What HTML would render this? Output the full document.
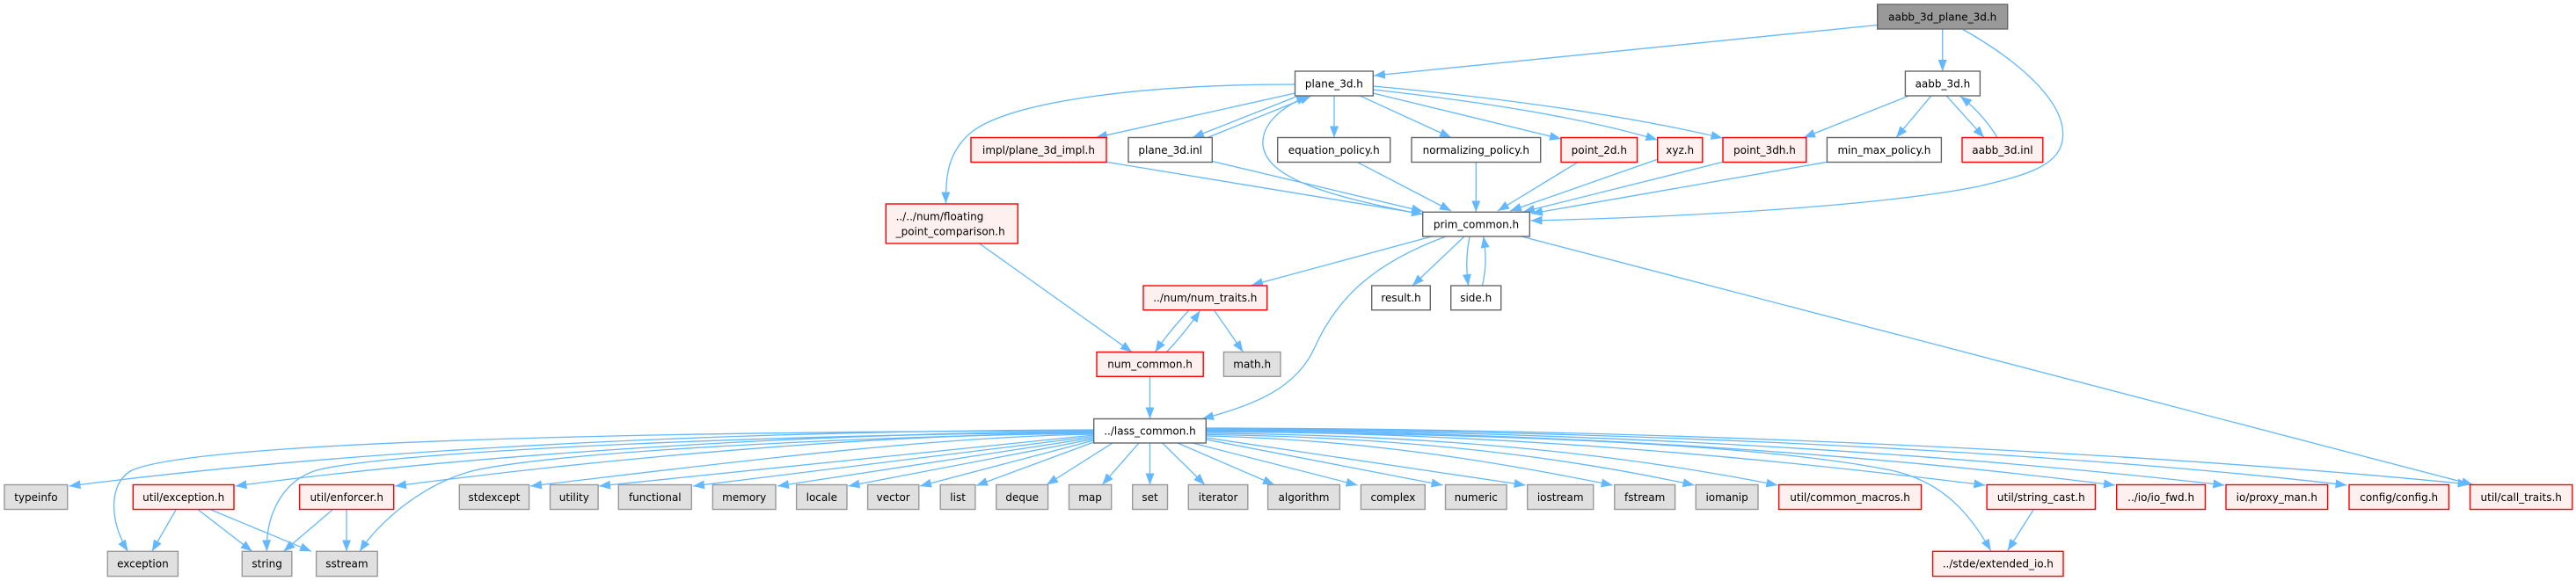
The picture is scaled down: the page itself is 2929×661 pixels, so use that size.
<!DOCTYPE html>
<html>
<head>
<meta charset="utf-8">
<style>
html,body{margin:0;padding:0;background:#fff;}
svg{display:block;}
.e{fill:none;stroke:#63b8ff;stroke-width:1.3;marker-end:url(#ah);}
.w{fill:#ffffff;stroke:#666666;stroke-width:1.4;}
.r{fill:#fff0f0;stroke:#ff0000;stroke-width:1.4;}
.g{fill:#e0e0e0;stroke:#999999;stroke-width:1.4;}
.k{fill:#999999;stroke:#666666;stroke-width:1.4;}
text{font-family:"DejaVu Sans","Liberation Sans",sans-serif;font-size:12px;fill:#000;}
</style>
</head>
<body>
<svg width="2929" height="661" viewBox="0 0 2929 661" xmlns="http://www.w3.org/2000/svg">
<defs>
<marker id="ah" viewBox="0 0 13 10" refX="13" refY="5" markerWidth="13" markerHeight="10" markerUnits="userSpaceOnUse" orient="auto">
<path d="M0,0 L13,5 L0,10 z" fill="#63b8ff"/>
</marker>
</defs>
<rect width="2929" height="661" fill="#fff"/>

<!-- edges -->
<g>
<path class="e" d="M2134.7,28.5 L1562,86"/>
<path class="e" d="M2208.7,33.3 L2208.7,81"/>
<path class="e" d="M2232,33.5 C2300,72 2352,120 2345,160 C2340,190 2300,200 2250,212 C2150,232 1950,246 1740.5,251"/>
<path class="e" d="M1472.5,96 C1300,96 1150,115 1105,150 C1078,172 1075,200 1075.5,231.5"/>
<path class="e" d="M1472.5,106 L1246,156.5"/>
<path class="e" d="M1472.5,110.5 L1356,156.5"/>
<path class="e" d="M1373,156.5 L1491,109"/>
<path class="e" d="M1517,108.8 L1517,156.5"/>
<path class="e" d="M1546,108.8 L1650,156.5"/>
<path class="e" d="M1561.3,106 L1775,158"/>
<path class="e" d="M1561.3,102 Q1770,125 1884.3,159"/>
<path class="e" d="M1561.3,98 Q1800,120 1958.5,157"/>
<path class="e" d="M1617.7,244 C1520,225 1440,205 1436,165 C1434,140 1460,120 1487,109.5"/>
<path class="e" d="M2171,108.8 L2051,156.5"/>
<path class="e" d="M2196,108.8 L2156,156.5"/>
<path class="e" d="M2213,108.8 L2256,156.5"/>
<path class="e" d="M2271,156.5 Q2255,130 2229,109.5"/>
<path class="e" d="M1258,184.3 L1618,243.5"/>
<path class="e" d="M1378.3,183.5 L1618,240.5"/>
<path class="e" d="M1543,184.3 L1650,240"/>
<path class="e" d="M1678.3,184.3 L1678.3,241.3"/>
<path class="e" d="M1794.4,184.3 L1703,240"/>
<path class="e" d="M1884.7,181.3 L1717,240"/>
<path class="e" d="M1959,184.3 L1732,241"/>
<path class="e" d="M2077.4,184.3 L1741,243"/>
<path class="e" d="M1628,269 L1423,324.5"/>
<path class="e" d="M1644,269 C1560,300 1520,340 1495,395 C1475,440 1430,460 1367,476.5"/>
<path class="e" d="M1665,269 L1606,325"/>
<path class="e" d="M1671,269 C1667,290 1667,305 1669.5,325"/>
<path class="e" d="M1685.5,325 C1690,305 1690,290 1686.7,269"/>
<path class="e" d="M1730,269 L2812,551.5"/>
<path class="e" d="M1351.8,353 C1338,368 1325,383 1313.5,400.5"/>
<path class="e" d="M1326.5,400.5 C1340,386 1352,372 1364.5,353.5"/>
<path class="e" d="M1380.4,352.7 L1413.5,400.5"/>
<path class="e" d="M1113.5,277 L1287,400.5"/>
<path class="e" d="M1307.5,428.3 L1307.5,476.5"/>

<!-- lass_common fan-out -->
<path class="e" d="M1243.7,489 C900,490 450,505 78.5,553"/>
<path class="e" d="M1243.7,490 C800,491 230,500 150,535 C122,550 125,595 145.5,627.3"/>
<path class="e" d="M1243.7,491 C950,492 550,515 267.5,553"/>
<path class="e" d="M1243.7,492 C900,494 450,512 360,535 C318,548 302,590 303.5,627.3"/>
<path class="e" d="M1243.7,492.5 C1000,494 700,520 449,553"/>
<path class="e" d="M1243.7,493 C1000,496 650,512 540,535 C480,550 430,595 409,627.3"/>
<path class="e" d="M1243.7,494 C1050,497 800,530 603,553"/>
<path class="e" d="M1243.7,495 L681,553"/>
<path class="e" d="M1243.7,496.5 L788,553"/>
<path class="e" d="M1243.7,498 L884,553"/>
<path class="e" d="M1243.7,499.5 L964.5,553"/>
<path class="e" d="M1243.7,501 L1046,553"/>
<path class="e" d="M1243.7,503 L1110,552.5"/>
<path class="e" d="M1265,504 L1190,551.5"/>
<path class="e" d="M1295,504 L1253.3,551.5"/>
<path class="e" d="M1307.5,504 L1307.5,551.5"/>
<path class="e" d="M1321.7,504 L1370,551.5"/>
<path class="e" d="M1339,504 L1449,551.5"/>
<path class="e" d="M1356,504 L1543.6,552"/>
<path class="e" d="M1371.3,500 L1640.6,552"/>
<path class="e" d="M1371.3,498 L1734.6,552"/>
<path class="e" d="M1371.3,496 C1550,500 1700,525 1833.7,552"/>
<path class="e" d="M1371.3,494.5 C1600,497 1780,520 1926.5,552"/>
<path class="e" d="M1371.3,493 C1650,495 1850,518 2021.3,552"/>
<path class="e" d="M1371.3,491.5 C1700,493 2000,505 2150,535 C2210,548 2240,585 2263.7,626.5"/>
<path class="e" d="M1371.3,491 C1700,492 2000,520 2257.4,552"/>
<path class="e" d="M1371.3,490 C1800,491 2150,520 2405,552"/>
<path class="e" d="M1371.3,489 C1850,490 2250,520 2529.4,552"/>
<path class="e" d="M1371.3,488 C1900,489 2400,520 2668.5,552"/>
<path class="e" d="M1371.3,487 C1950,488 2500,520 2807.6,551"/>

<!-- lower edges -->
<path class="e" d="M200,580 L172.8,627.3"/>
<path class="e" d="M225.5,580 L286.7,627.3"/>
<path class="e" d="M240,580 L354,627.3"/>
<path class="e" d="M378,580 L322.5,627.3"/>
<path class="e" d="M394,580 L394,627.3"/>
<path class="e" d="M2312,580 L2282.7,626.5"/>
</g>

<!-- nodes -->
<g text-anchor="middle">
<rect class="k" x="2134.7" y="5" width="148" height="28"/><text x="2208.7" y="23.3">aabb_3d_plane_3d.h</text>

<rect class="w" x="1472.5" y="81" width="88.8" height="28"/><text x="1516.9" y="99.3">plane_3d.h</text>
<rect class="w" x="2166.4" y="81" width="85" height="28"/><text x="2208.9" y="99.3">aabb_3d.h</text>

<rect class="r" x="1104" y="156.5" width="154" height="28"/><text x="1181" y="174.8">impl/plane_3d_impl.h</text>
<rect class="w" x="1283" y="156.5" width="95.3" height="28"/><text x="1330.7" y="174.8">plane_3d.inl</text>
<rect class="w" x="1452.7" y="156.5" width="128" height="28"/><text x="1516.7" y="174.8">equation_policy.h</text>
<rect class="w" x="1605" y="156.5" width="146.7" height="28"/><text x="1678.3" y="174.8">normalizing_policy.h</text>
<rect class="r" x="1775" y="156.5" width="86.6" height="28"/><text x="1818.3" y="174.8">point_2d.h</text>
<rect class="r" x="1884.7" y="156.5" width="51.1" height="28"/><text x="1910.2" y="174.8">xyz.h</text>
<rect class="r" x="1959" y="156.5" width="94.8" height="28"/><text x="2006.4" y="174.8">point_3dh.h</text>
<rect class="w" x="2077.4" y="156.5" width="130" height="28"/><text x="2142.4" y="174.8">min_max_policy.h</text>
<rect class="r" x="2231" y="156.5" width="91.8" height="28"/><text x="2276.9" y="174.8">aabb_3d.inl</text>

<rect class="r" x="1007.3" y="232" width="150" height="45"/>
<text x="1018.6" y="250.3" text-anchor="start">../../num/floating</text>
<text x="1018.6" y="267.3" text-anchor="start">_point_comparison.h</text>

<rect class="w" x="1617.7" y="241.3" width="121.6" height="27.7"/><text x="1678.5" y="259.5">prim_common.h</text>

<rect class="r" x="1300" y="325" width="140.7" height="27.7"/><text x="1370.3" y="343.2">../num/num_traits.h</text>
<rect class="w" x="1559.7" y="325" width="66.6" height="27.7"/><text x="1593" y="343.2">result.h</text>
<rect class="w" x="1649.7" y="325" width="57" height="27.7"/><text x="1678.2" y="343.2">side.h</text>

<rect class="r" x="1247" y="400.5" width="121.2" height="27.8"/><text x="1307.6" y="418.7">num_common.h</text>
<rect class="g" x="1391.4" y="400.5" width="64.6" height="27.8"/><text x="1423.7" y="418.7">math.h</text>

<rect class="w" x="1243.7" y="476.5" width="127.6" height="27.5"/><text x="1307.5" y="494.6">../lass_common.h</text>

<rect class="g" x="5" y="551.5" width="71.7" height="28"/><text x="40.9" y="569.8">typeinfo</text>
<rect class="r" x="151.3" y="551.5" width="114.7" height="28"/><text x="208.7" y="569.8">util/exception.h</text>
<rect class="r" x="340.6" y="551.5" width="107.1" height="28"/><text x="394.2" y="569.8">util/enforcer.h</text>
<rect class="g" x="522.3" y="551.5" width="79.3" height="28"/><text x="562" y="569.8">stdexcept</text>
<rect class="g" x="625.5" y="551.5" width="54.6" height="28"/><text x="652.8" y="569.8">utility</text>
<rect class="g" x="703.3" y="551.5" width="83" height="28"/><text x="744.8" y="569.8">functional</text>
<rect class="g" x="810.4" y="551.5" width="71.6" height="28"/><text x="846.2" y="569.8">memory</text>
<rect class="g" x="905.6" y="551.5" width="57.4" height="28"/><text x="934.3" y="569.8">locale</text>
<rect class="g" x="986.6" y="551.5" width="58.2" height="28"/><text x="1015.7" y="569.8">vector</text>
<rect class="g" x="1069.2" y="551.5" width="39.7" height="28"/><text x="1089.1" y="569.8">list</text>
<rect class="g" x="1132.8" y="551.5" width="58.8" height="28"/><text x="1162.2" y="569.8">deque</text>
<rect class="g" x="1215.5" y="551.5" width="48.2" height="28"/><text x="1239.6" y="569.8">map</text>
<rect class="g" x="1287.7" y="551.5" width="39.8" height="28"/><text x="1307.6" y="569.8">set</text>
<rect class="g" x="1351.3" y="551.5" width="67.5" height="28"/><text x="1385.1" y="569.8">iterator</text>
<rect class="g" x="1441.6" y="551.5" width="81.8" height="28"/><text x="1482.5" y="569.8">algorithm</text>
<rect class="g" x="1547.4" y="551.5" width="72.9" height="28"/><text x="1583.9" y="569.8">complex</text>
<rect class="g" x="1643.5" y="551.5" width="69.6" height="28"/><text x="1678.3" y="569.8">numeric</text>
<rect class="g" x="1736.7" y="551.5" width="75" height="28"/><text x="1774.2" y="569.8">iostream</text>
<rect class="g" x="1835.8" y="551.5" width="68.8" height="28"/><text x="1870.2" y="569.8">fstream</text>
<rect class="g" x="1928.2" y="551.5" width="70.8" height="28"/><text x="1963.6" y="569.8">iomanip</text>
<rect class="r" x="2022.6" y="551.5" width="161.9" height="28"/><text x="2103.6" y="569.8">util/common_macros.h</text>
<rect class="r" x="2259.1" y="551.5" width="123.3" height="28"/><text x="2320.8" y="569.8">util/string_cast.h</text>
<rect class="r" x="2406.7" y="551.5" width="100.8" height="28"/><text x="2457.1" y="569.8">../io/io_fwd.h</text>
<rect class="r" x="2531" y="551.5" width="115.6" height="28"/><text x="2588.8" y="569.8">io/proxy_man.h</text>
<rect class="r" x="2671" y="551.5" width="113.4" height="28"/><text x="2727.7" y="569.8">config/config.h</text>
<rect class="r" x="2808.5" y="551.5" width="116.3" height="28"/><text x="2866.7" y="569.8">util/call_traits.h</text>

<rect class="g" x="122.3" y="627.3" width="80.1" height="28.3"/><text x="162.4" y="645.7">exception</text>
<rect class="g" x="275.3" y="627.3" width="56.5" height="28.3"/><text x="303.6" y="645.7">string</text>
<rect class="g" x="359.6" y="627.3" width="69.6" height="28.3"/><text x="394.4" y="645.7">sstream</text>
<rect class="r" x="2197.6" y="627.3" width="148.4" height="28.3"/><text x="2271.8" y="645.7">../stde/extended_io.h</text>
</g>
</svg>
</body>
</html>
